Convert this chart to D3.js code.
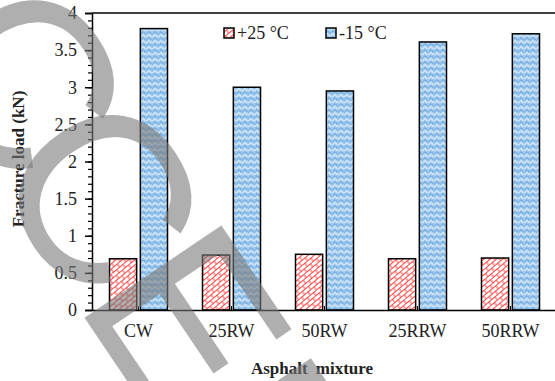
<!DOCTYPE html>
<html>
<head>
<meta charset="utf-8">
<script src="https://cdn.jsdelivr.net/npm/d3@7"></script>
<style>
  body { margin: 0; background: #fff; }
  text { font-family: "Liberation Serif", "Times New Roman", serif; }
</style>
</head>
<body>
<svg id="chart" width="555" height="381"></svg>
<script>
const mixtures = ["CW", "25RW", "50RW", "25RRW", "50RRW"]
const series = ["+25 °C", "-15 °C"]
const warm = [0.69, 0.74, 0.75, 0.69, 0.70]
const cold = [3.79, 3.00, 2.95, 3.61, 3.72]
const yTicks = [0, 0.5, 1, 1.5, 2, 2.5, 3, 3.5, 4]

const serif = '"Liberation Serif", "Times New Roman", serif'

const margin = {top: 13, right: -2, bottom: 71, left: 92},
    width = 555 - margin.left - margin.right,
    height = 381 - margin.top - margin.bottom

const svg = d3.select("#chart")
const defs = svg.append("defs")

// red diagonal brick hatch
const red = defs.append("pattern")
    .attr("id", "brick")
    .attr("patternUnits", "userSpaceOnUse")
    .attr("width", 8).attr("height", 8)
    .attr("patternTransform", "rotate(-40)")
red.append("rect").attr("width", 8).attr("height", 8).attr("fill", "#fff")
red.append("path")
    .attr("d", "M0,0.5H8M0,4.5H8M2,0.5V4.5M6,4.5V8.5")
    .attr("stroke", "#ff4848").attr("stroke-width", 1).attr("fill", "none")

// blue herringbone weave
const blue = defs.append("pattern")
    .attr("id", "weave")
    .attr("patternUnits", "userSpaceOnUse")
    .attr("width", 6).attr("height", 6)
blue.append("rect").attr("width", 6).attr("height", 6).attr("fill", "#a2ccee")
blue.append("path")
    .attr("d", "M0,3.5L3,0.5L6,3.5")
    .attr("stroke", "#3478c8").attr("stroke-width", 0.9)
    .attr("stroke-dasharray", "1 0.7").attr("fill", "none")
blue.append("path")
    .attr("d", "M0,6.5L3,3.5L6,6.5")
    .attr("stroke", "#f4f9fe").attr("stroke-width", 1).attr("fill", "none")

const fills = ["url(#brick)", "url(#weave)"]

const g = svg.append("g")
    .attr("transform", "translate(" + margin.left + "," + margin.top + ")")

const fx = d3.scaleBand()
    .domain(mixtures)
    .range([0, width])
const fs = d3.scaleBand()
    .domain(series)
    .range([17.5, fx.bandwidth() - 17.5])
    .paddingInner(0.12)
const fy = d3.scaleLinear()
    .domain([0, 4])
    .range([height, 0])

// frame top line
g.append("line")
    .attr("x1", 0).attr("x2", width)
    .attr("y1", 0).attr("y2", 0)
    .attr("stroke", "#000").attr("stroke-width", 1.5)

// bars
const rows = mixtures.map((m, i) => ({m: m, v: [warm[i], cold[i]]}))
rows.forEach(r => {
    r.v.forEach((v, j) => {
        g.append("rect")
            .attr("x", fx(r.m) + fs(series[j]))
            .attr("y", fy(v))
            .attr("width", fs.bandwidth())
            .attr("height", fy(0) - fy(v))
            .attr("fill", fills[j])
            .attr("stroke", "#000")
            .attr("stroke-width", 1.5)
    })
})

// small ticks at group centres
g.selectAll(".ctick")
    .data(mixtures)
    .join("line")
    .attr("x1", d => fx(d) + fx.bandwidth() / 2)
    .attr("x2", d => fx(d) + fx.bandwidth() / 2)
    .attr("y1", height).attr("y2", height - 4)
    .attr("stroke", "#000").attr("stroke-width", 1)

// y axis with minor ticks
g.append("g")
    .call(d3.axisLeft(fy).tickValues(d3.range(0, 4.01, 0.1)).tickSize(4).tickFormat(""))
    .call(a => a.select(".domain").remove())
    .selectAll("line").attr("stroke-width", 1.2)
const yax = g.append("g")
    .call(d3.axisLeft(fy).tickValues(yTicks).tickSize(7).tickPadding(8).tickFormat(d3.format("")))
yax.attr("font-family", serif)
yax.select(".domain").attr("stroke-width", 1.5)
yax.selectAll("line").attr("stroke-width", 1.5)
yax.selectAll("text")
    .style("font-size", "18px")
    .attr("fill", "#222")

// x axis
const xax = g.append("g")
    .attr("transform", "translate(0," + height + ")")
    .call(d3.axisBottom(fx).tickSize(0).tickPadding(14))
xax.attr("font-family", serif)
xax.select(".domain").attr("stroke-width", 1.5)
xax.selectAll("text")
    .style("font-size", "18px")
    .attr("fill", "#222")

// legend
const lx = [224, 326]
series.forEach((s, j) => {
    svg.append("rect")
        .attr("x", lx[j]).attr("y", 28)
        .attr("width", 10).attr("height", 10)
        .attr("fill", fills[j])
        .attr("stroke", "#000").attr("stroke-width", 1.5)
    svg.append("text")
        .attr("x", lx[j] + 13).attr("y", 39)
        .style("font-size", "18px")
        .attr("fill", "#222")
        .text(s)
})

// axis titles
svg.append("text")
    .attr("transform", "translate(24,159) rotate(-90)")
    .attr("text-anchor", "middle")
    .style("font-size", "17px")
    .style("font-weight", "bold")
    .attr("fill", "#222")
    .text("Fracture load (kN)")
svg.append("text")
    .attr("x", 312).attr("y", 374)
    .attr("text-anchor", "middle")
    .style("font-size", "17px")
    .style("font-weight", "bold")
    .style("word-spacing", "4px")
    .attr("fill", "#222")
    .text("Asphalt mixture")

// watermark
svg.append("text")
    .attr("transform", "translate(-202,-107) rotate(56)")
    .attr("dx", "0 35 -35 -14")
    .style("font-family", '"Liberation Sans", Arial, sans-serif')
    .style("font-size", "240px")
    .attr("fill", "#7a7a7a")
    .attr("fill-opacity", 0.6)
    .text("ACCEPTED")
</script>
</body>
</html>
